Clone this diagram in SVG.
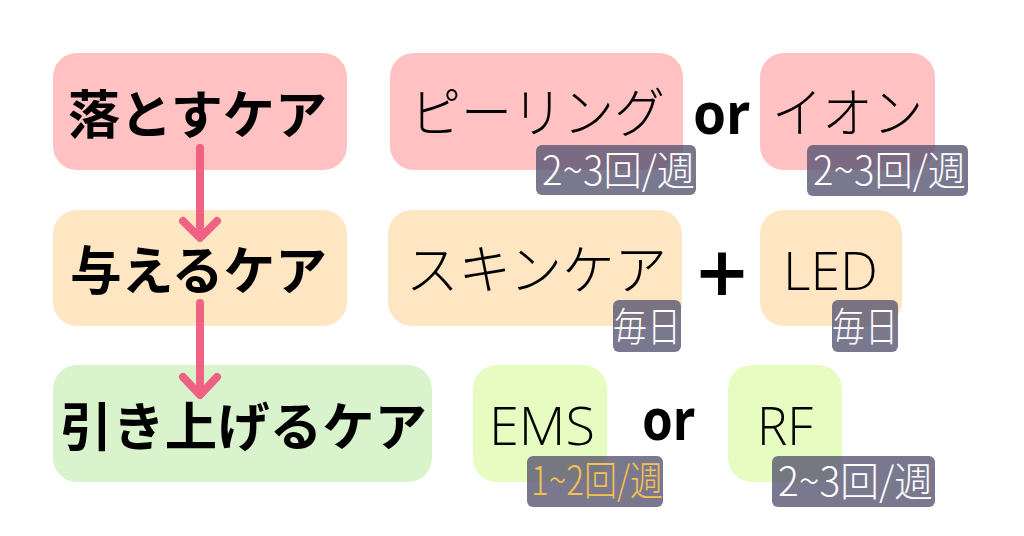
<svg xmlns="http://www.w3.org/2000/svg" width="1024" height="536" viewBox="0 0 1024 536">
<style>
.box{stroke:none}
.pink{fill:#ffc1c2}
.peach{fill:#ffe6c3}
.green{fill:#d9f3cd}
.lime{fill:#e6fcc1}
.head{font-family:"Noto Sans CJK JP","Noto Sans",sans-serif;font-weight:700;font-size:52px;fill:#000}
.item{font-family:"Noto Sans CJK JP Light","Noto Sans CJK JP DemiLight","Noto Sans CJK JP","Noto Sans",sans-serif;font-weight:300;font-size:54px;fill:#000}
.latin{font-family:"Open Sans","Noto Sans CJK JP Light","Noto Sans CJK JP",sans-serif;font-weight:300}
.op{font-family:"Noto Sans","Noto Sans CJK JP",sans-serif;font-weight:700;font-size:58px;fill:#000}
.plus{font-family:"DejaVu Sans",sans-serif;font-weight:700;font-size:68px;fill:#000}
.badge{fill:#55526f;fill-opacity:0.78}
.btxt{font-family:"Noto Sans CJK JP Light","Noto Sans CJK JP DemiLight","Noto Sans CJK JP","Noto Sans",sans-serif;font-weight:300;font-size:40px;fill:#ffffff}
.orange{fill:#f6c04e}
.conn{fill:none;stroke:#ef6283;stroke-width:8;stroke-linecap:round;stroke-linejoin:round}
</style>
<rect width="1024" height="536" fill="#ffffff"/>

<g id="node-otosu">
<rect class="box pink" x="53" y="53" width="294" height="117" rx="24"/>
<text class="head" x="68" y="134" textLength="259" lengthAdjust="spacingAndGlyphs">落とすケア</text>
</g>
<g id="node-ataeru">
<rect class="box peach" x="53" y="210" width="294" height="116" rx="24"/>
<text class="head" x="70" y="290" textLength="257" lengthAdjust="spacingAndGlyphs">与えるケア</text>
</g>
<g id="node-hikiageru">
<rect class="box green" x="53" y="365" width="379" height="117" rx="24"/>
<text class="head" x="60" y="446" textLength="367" lengthAdjust="spacingAndGlyphs">引き上げるケア</text>
</g>

<g id="node-peeling">
<rect class="box pink" x="390" y="53" width="293" height="117" rx="24"/>
<text class="item" x="410" y="133" textLength="255" lengthAdjust="spacingAndGlyphs">ピーリング</text>
</g>
<g id="op-or1">
<text class="op" x="693" y="134" textLength="57" lengthAdjust="spacingAndGlyphs">or</text>
</g>
<g id="node-ion">
<rect class="box pink" x="760" y="53" width="175" height="117" rx="24"/>
<text class="item" x="772" y="133" textLength="151" lengthAdjust="spacingAndGlyphs">イオン</text>
</g>

<g id="node-skincare">
<rect class="box peach" x="388" y="210" width="294" height="116" rx="24"/>
<text class="item" x="406" y="290" textLength="261" lengthAdjust="spacingAndGlyphs">スキンケア</text>
</g>
<g id="op-plus">
<text class="plus" x="722" y="295" text-anchor="middle">+</text>
</g>
<g id="node-led">
<rect class="box peach" x="760" y="210" width="142" height="116" rx="24"/>
<text class="item latin" x="783" y="290" font-size="60" textLength="95" lengthAdjust="spacingAndGlyphs">LED</text>
</g>

<g id="node-ems">
<rect class="box lime" x="473" y="365" width="134" height="117" rx="24"/>
<text class="item latin" x="489" y="445" font-size="60" textLength="106" lengthAdjust="spacingAndGlyphs">EMS</text>
</g>
<g id="op-or2">
<text class="op" x="642" y="440" font-size="56" textLength="53" lengthAdjust="spacingAndGlyphs">or</text>
</g>
<g id="node-rf">
<rect class="box lime" x="728" y="365" width="114" height="117" rx="24"/>
<text class="item latin" x="757" y="445" font-size="60" textLength="56" lengthAdjust="spacingAndGlyphs">RF</text>
</g>

<g id="badge-peeling">
<rect class="badge" x="536" y="145" width="160" height="50" rx="6"/>
<text class="btxt" x="542" y="185" textLength="153" lengthAdjust="spacingAndGlyphs">2~3回/週</text>
</g>
<g id="badge-ion">
<rect class="badge" x="807" y="145" width="161" height="51" rx="6"/>
<text class="btxt" x="813" y="185" textLength="153" lengthAdjust="spacingAndGlyphs">2~3回/週</text>
</g>
<g id="badge-skincare">
<rect class="badge" x="613" y="300" width="68" height="52" rx="6"/>
<text class="btxt" x="613" y="341" font-size="36" textLength="68" lengthAdjust="spacingAndGlyphs">毎日</text>
</g>
<g id="badge-led">
<rect class="badge" x="832" y="300" width="66" height="52" rx="6"/>
<text class="btxt" x="832" y="341" font-size="36" textLength="66" lengthAdjust="spacingAndGlyphs">毎日</text>
</g>
<g id="badge-ems">
<rect class="badge" x="527" y="456" width="136" height="51" rx="6"/>
<text class="btxt orange" x="531" y="495" textLength="132" lengthAdjust="spacingAndGlyphs">1~2回/週</text>
</g>
<g id="badge-rf">
<rect class="badge" x="772" y="456" width="163" height="51" rx="6"/>
<text class="btxt" x="778" y="496" textLength="155" lengthAdjust="spacingAndGlyphs">2~3回/週</text>
</g>

<g id="connectors">
<path class="conn" d="M200,148 V236 M183,221 L200,238 L217,221"/>
<path class="conn" d="M200,303 V393 M183,377 L200,395 L217,377"/>
</g>
</svg>
